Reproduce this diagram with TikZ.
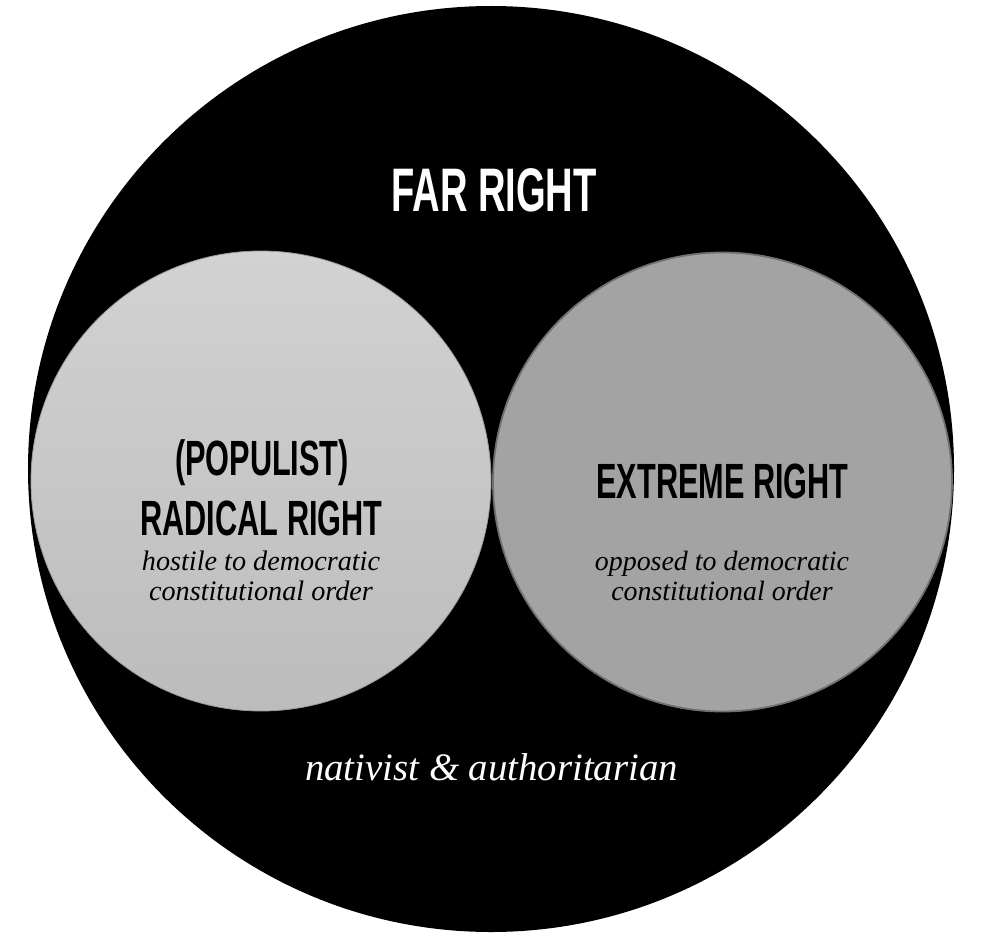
\documentclass[tikz,border=0pt]{standalone}
\usepackage{fontspec}
\usepackage{graphicx}
\setmainfont{Liberation Serif}
\newfontfamily\condsans{Liberation Sans Bold}
\usetikzlibrary{shadings}
\definecolor{radtop}{HTML}{D2D2D2}
\definecolor{radbot}{HTML}{BCBCBC}
\definecolor{radline}{HTML}{9A9A9A}
\definecolor{extfill}{HTML}{A3A3A3}
\definecolor{extline}{HTML}{707070}
\tikzset{
  head/.style={inner sep=0pt, anchor=base, font=\condsans},
  note/.style={inner sep=0pt, anchor=base, align=center, font=\itshape}
}
\newcommand{\cond}[1]{\scalebox{0.62}[1]{#1}}
\begin{document}
\begin{tikzpicture}[x=1pt,y=-1pt]
\useasboundingbox (0,0) rectangle (985,939);
\fill[white] (0,0) rectangle (985,939);
% outer circle
\fill[black] (491,469) circle[radius=463];
% left circle
\shade[top color=radtop, bottom color=radbot, draw=radline, line width=0.8pt]
  (261,481) circle[radius=230];
% right circle
\filldraw[fill=extfill, draw=extline, line width=1.8pt]
  (722.5,482) circle[radius=229.5];
% texts
\node[head, text=white, font=\condsans\fontsize{61.5}{62}\selectfont] (far) at (494,211) {\cond{FAR RIGHT}};
\node[head, font=\condsans\fontsize{49.5}{50}\selectfont] (pop) at (262,475) {\cond{(POPULIST)}};
\node[head, font=\condsans\fontsize{49.5}{50}\selectfont] (rad) at (261.5,535) {\cond{RADICAL RIGHT}};
\node[note, font=\itshape\fontsize{28.2}{30}\selectfont] (hos) at (261,570) {hostile to democratic};
\node[note, font=\itshape\fontsize{28.2}{30}\selectfont] (con1) at (261,600) {constitutional order};
\node[head, font=\condsans\fontsize{49.5}{50}\selectfont] (ext) at (722.5,498) {\cond{EXTREME RIGHT}};
\node[note, font=\itshape\fontsize{27.9}{30}\selectfont] (opp) at (722,570) {opposed to democratic};
\node[note, font=\itshape\fontsize{27.9}{30}\selectfont] (con2) at (722,600) {constitutional order};
\node[note, text=white, font=\itshape\fontsize{38.8}{40}\selectfont] (nat) at (491.5,780) {nativist \& authoritarian};
\end{tikzpicture}
\end{document}
